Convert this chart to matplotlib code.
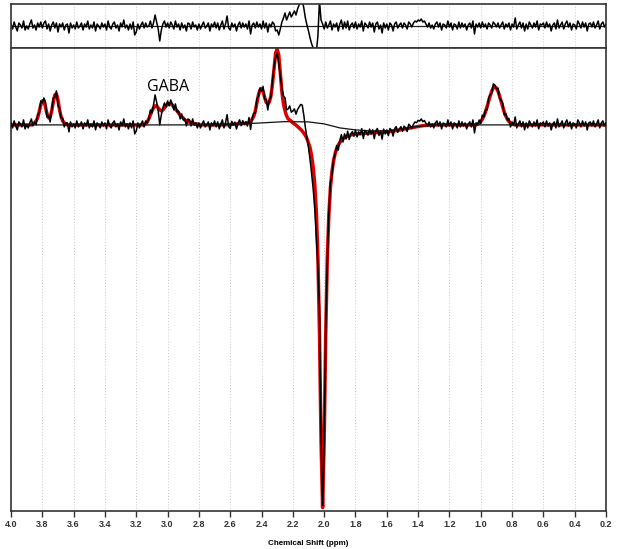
import numpy as np
import matplotlib
matplotlib.use("Agg")
import matplotlib.pyplot as plt

# chemical shift grid, 4.00 -> 0.20 ppm in 0.01 steps
ppm = np.linspace(4.0, 0.2, 381)

# fitted model (red), baseline included; rows of 0.1 ppm
fit_curve = [
    0, 0, 0, 0, 0, 0, 0, 0, 0, 0,                                   # 4.00-3.91
    0, 0, 0, 0, 1, 2, 4, 7, 13, 20,                                 # 3.90-3.81
    24, 24, 18, 11, 7, 8, 14, 23, 30, 31,                           # 3.80-3.71
    25, 15, 8, 4, 2, 1, 0, 0, 0, 0,                                 # 3.70-3.61
    0, 0, 0, 0, 0, 0, 0, 0, 0, 0,                                   # 3.60-3.51
    0, 0, 0, 0, 0, 0, 0, 0, 0, 0,                                   # 3.50-3.41
    0, 0, 0, 0, 0, 0, 0, 0, 0, 0,                                   # 3.40-3.31
    0, 0, 0, 0, 0, 0, 0, 0, 0, 0,                                   # 3.30-3.21
    0, 0, 0, 0, 0, 0, 1, 3, 6, 10,                                  # 3.20-3.11
    14, 17, 19, 19, 17, 15, 14, 15, 17, 19,                         # 3.10-3.01
    21, 21, 21, 20, 18, 16, 14, 12, 10, 8,                          # 3.00-2.91
    7, 5, 4, 3, 3, 2, 2, 1, 1, 1,                                   # 2.90-2.81
    0, 0, 0, 0, 0, 0, 0, 0, 0, 0,                                   # 2.80-2.71
    0, 0, 0, 0, 0, 0, 0, 0.2, 0.3, 0.4,                             # 2.70-2.61
    0.5, 0.6, 0.7, 0.8, 0.9, 1.0, 1.1, 1.2, 1.3, 1.4,               # 2.60-2.51
    1.3, 1.8, 2.4, 3.5, 5.6, 8.6, 13.7, 21.8, 29.8, 35,             # 2.50-2.41
    36.5, 33.5, 27.5, 22.5, 21, 23, 29, 41, 56.5, 72,               # 2.40-2.31
    76, 70, 52, 33, 21, 14, 9, 6, 5, 3.7,                           # 2.30-2.21
    2, 1, -0.2, -1.6, -3, -4.5, -6.2, -8.3, -10.6, -13.8,           # 2.20-2.11
    -18, -23, -31, -42.5, -59.5, -87, -132, -208, -316, -383,       # 2.10-2.01
    -317, -209.5, -134, -89.5, -62.5, -46.5, -36, -28.6, -23.7, -20.2,  # 2.00-1.91
    -17.6, -15.7, -14.1, -12.9, -12, -11.2, -10.6, -10.1, -9.7, -9.4,   # 1.90-1.81
    -9.2, -9, -8.9, -8.8, -8.7, -8.6, -8.5, -8.4, -8.3, -8.2,       # 1.80-1.71
    -8, -7.9, -7.8, -7.7, -7.6, -7.5, -7.4, -7.3, -7.2, -7.1,       # 1.70-1.61
    -7, -6.8, -6.6, -6.4, -6.2, -6, -5.7, -5.4, -5.1, -4.8,         # 1.60-1.51
    -4.5, -4.2, -3.9, -3.6, -3.3, -3, -2.7, -2.4, -2.1, -1.8,       # 1.50-1.41
    -1.5, -1.2, -1, -0.8, -0.6, -0.4, -0.3, -0.2, -0.1, 0,          # 1.40-1.31
    0, 0, 0, 0, 0, 0, 0, 0, 0, 0,                                   # 1.30-1.21
    0, 0, 0, 0, 0, 0, 0, 0, 0, 0,                                   # 1.20-1.11
    0, 0, 0, 0, 0, 0, 0, 0, 1, 1.9,                                 # 1.10-1.01
    3.4, 5.7, 8.9, 13, 18, 23.6, 29, 33.7, 37, 38,                  # 1.00-0.91
    37, 33.7, 29, 23.6, 18, 13, 8.9, 5.7, 3.4, 1.9,                 # 0.90-0.81
    1, 0.5, 0, 0, 0, 0, 0, 0, 0, 0,                                 # 0.80-0.71
    0, 0, 0, 0, 0, 0, 0, 0, 0, 0,                                   # 0.70-0.61
    0, 0, 0, 0, 0, 0, 0, 0, 0, 0,                                   # 0.60-0.51
    0, 0, 0, 0, 0, 0, 0, 0, 0, 0,                                   # 0.50-0.41
    0, 0, 0, 0, 0, 0, 0, 0, 0, 0,                                   # 0.40-0.31
    0, 0, 0, 0, 0, 0, 0, 0, 0, 0,                                   # 0.30-0.21
    0,                                                              # 0.20
]

# residual (data - fit)
residual = [
    2, -3, 4, -1, -5, 3, 1, -2, 5, -4,
    0, -3, 2, 6, -2, 1, -4, 3, -1, 4,
    -2, 3, 5, -3, 2, -5, 1, 4, -2, 3,
    -6, 2, -1, 3, -4, 1, 2, -7, 3, -2,
    1, -3, 4, -2, 0, 3, -4, 2, -1, 5,
    -3, 1, -2, 4, -5, 2, 0, -3, 3, -1,
    2, -4, 5, -1, -3, 2, 4, -2, 1, -5,
    3, -1, 6, -2, 1, -4, 2, -3, 4, -9,
    -6, 2, -3, 1, 4, -2, 3, -1, 0, 5,
    -2, 3, 11, 4, -3, -15, -4, 2, 5, -1,
    3, -2, 4, 1, -3, 5, -1, 2, -4, 3,
    -2, 1, -5, 3, 2, -3, 4, -1, 1, -4,
    2, -3, 1, 4, -2, 0, 3, -5, 2, -1,
    4, -2, 3, -4, 1, 5, -3, 2, 10, -2,
    -4, 3, -1, 2, -5, 1, 4, -2, 3, -1,
    2, -3, 5, -8, 1, 3, -2, 4, -1, 2,
    -3, 5, -2, 3, -6, 2, -1, 4, 2, -5,
    -4, -9, -3, 4, 8, 13, 6, 10, 14, 9,
    12, 15, 11, 17, 21, 25, 26, 18, 8, 1,
    -5, -12, -18, -22, -25, -26, -10, 25, 6, 2,
    -3, 4, -2, 1, 5, -4, 2, -1, 3, -5,
    2, 6, -3, 4, -2, 5, -4, 1, 3, -2,
    4, -3, 2, -1, 5, -5, 3, 1, -2, 4,
    -1, 3, -6, 2, 4, -3, 1, -7, 3, -2,
    2, -4, 3, 1, -5, 2, 4, -2, 1, 3,
    -2, 3, 1, -3, 4, 2, -1, 3, 5, 4,
    6, 5, 7, 4, 5, 2, -1, 3, -2, 1,
    -3, 2, 4, -1, 3, -4, 2, 1, -2, 5,
    -1, 3, -4, 2, 1, -3, 4, -2, 3, -1,
    2, -4, 1, 3, -2, 5, -8, 2, -1, 3,
    -2, 4, -1, 2, -3, 3, 1, -2, 4, 2,
    -1, 3, -2, 1, 4, -3, 2, -1, 3, -4,
    2, -1, 8, -3, 1, 4, -2, 3, -5, 2,
    -3, 4, 1, -2, 3, -1, 5, -4, 2, 1,
    3, -2, 4, -1, 2, -5, 1, 3, -3, 6,
    -2, 1, 4, -3, 2, 5, -1, 3, -4, 2,
    1, -3, 5, 2, -2, 4, -1, 3, -5, 2,
    3, -1, 4, -2, 1, 5, -3, 2, 4, -1,
    2,
]

# fitted baseline knots
baseline_ppm = [4.0, 2.8, 2.6, 2.4, 2.25, 2.1, 2.0, 1.9, 1.8, 1.7, 1.6, 1.5, 1.4, 1.3, 0.2]
baseline_val = [0, 0, 0.5, 2, 3.3, 3, 1, -3, -5, -6, -6, -4, -1.5, 0, 0]

tick_vals = [4.0, 3.8, 3.6, 3.4, 3.2, 3.0, 2.8, 2.6, 2.4, 2.2, 2.0,
             1.8, 1.6, 1.4, 1.2, 1.0, 0.8, 0.6, 0.4, 0.2]

fit = np.array(fit_curve, dtype=float)
res = np.array(residual, dtype=float)
data = fit + res

fig = plt.figure(figsize=(6.22, 5.49), dpi=100)
ax_res = fig.add_axes([0.0177, 0.9126, 0.9566, 0.0801])
ax = fig.add_axes([0.0177, 0.0701, 0.9566, 0.8425])

for a in (ax_res, ax):
    a.set_xlim(4.0, 0.2)
    a.set_xticks(tick_vals)
    for t in tick_vals:
        a.axvline(t, color="#c8c8c8", lw=0.7, ls=(0, (1, 2)), zorder=0)
    for s in a.spines.values():
        s.set_linewidth(1.2)
        s.set_color("#333333")

# residual panel
ax_res.axhline(0, color="#222222", lw=0.9)
ax_res.plot(ppm, res, color="black", lw=1.1)
ax_res.set_ylim(-22, 22)
ax_res.set_yticks([])
ax_res.tick_params(axis="x", length=0, labelbottom=False)

# main spectrum
ax.plot(ppm, fit, color="#e00000", lw=2.5, zorder=2)
ax.plot(ppm, data, color="black", lw=1.1, zorder=3)
ax.plot(baseline_ppm, baseline_val, color="#111111", lw=0.9, zorder=4)
ax.set_ylim(-386, 77)
ax.set_yticks([])
ax.set_xticklabels([f"{t:.1f}" for t in tick_vals], fontsize=6.5,
                   fontweight="bold", family="Liberation Sans")
ax.tick_params(axis="x", direction="out", length=4, width=1, pad=3, colors="#333333")
ax.set_xlabel("Chemical Shift (ppm)", fontsize=5.8, fontweight="bold",
              family="Liberation Sans", labelpad=8)

ax.text(3.0, 38, "GABA", ha="center", va="center", fontsize=11.5, family="Open Sans")

fig.savefig("out.png", dpi=100)
